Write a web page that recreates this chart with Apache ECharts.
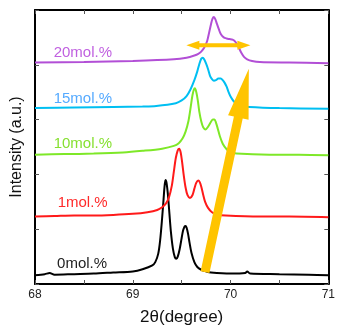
<!DOCTYPE html>
<html><head><meta charset="utf-8">
<script src="https://cdn.jsdelivr.net/npm/echarts@6/dist/echarts.min.js"></script>
<style>html,body{margin:0;padding:0;background:#fff}#c{width:338px;height:331px}</style>
</head><body><div id="c"></div>
<script>
// ---- data ----
const seriesNames = ['0mol.%', '1mol.%', '10mol.%', '15mol.%', '20mol.%'];

const x0 = [68.00,68.10,68.15,68.20,68.40,68.60,68.80,69.00,69.10,69.20,69.23,69.26,69.28,69.30,69.315,69.325,69.335,69.345,69.36,69.375,69.39,69.41,69.43,69.445,69.46,69.48,69.50,69.515,69.53,69.54,69.55,69.565,69.58,69.60,69.63,69.66,69.70,69.75,69.80,70.00,70.15,70.17,70.20,70.50,70.80,71.00];
const y0 = [0.16,0.18,0.20,0.17,0.18,0.19,0.21,0.23,0.27,0.34,0.40,0.55,0.80,1.20,1.55,1.78,1.90,1.85,1.62,1.28,0.95,0.65,0.49,0.46,0.50,0.64,0.84,0.98,1.05,1.06,1.03,0.92,0.76,0.57,0.40,0.31,0.26,0.23,0.21,0.19,0.20,0.23,0.19,0.18,0.17,0.16];

const x1 = [68.00,68.20,68.40,68.60,68.80,69.00,69.15,69.25,69.30,69.34,69.37,69.40,69.42,69.44,69.46,69.475,69.49,69.505,69.52,69.54,69.56,69.585,69.61,69.63,69.65,69.67,69.685,69.70,69.72,69.74,69.77,69.81,69.86,69.95,70.30,70.60,71.00];
const y1 = [1.23,1.24,1.25,1.25,1.26,1.28,1.31,1.35,1.40,1.47,1.58,1.80,2.05,2.30,2.44,2.47,2.40,2.22,2.00,1.76,1.62,1.57,1.62,1.74,1.85,1.89,1.86,1.78,1.63,1.50,1.39,1.31,1.27,1.25,1.23,1.23,1.22];

const x10 = [68.00,68.30,68.60,68.90,69.10,69.30,69.42,69.47,69.51,69.54,69.57,69.59,69.61,69.625,69.635,69.65,69.665,69.68,69.70,69.72,69.745,69.77,69.80,69.82,69.835,69.85,69.87,69.89,69.92,69.96,70.00,70.06,70.40,70.70,71.00];
const y10 = [2.36,2.37,2.38,2.40,2.43,2.47,2.52,2.57,2.66,2.78,2.98,3.20,3.44,3.55,3.57,3.50,3.35,3.15,2.97,2.86,2.82,2.87,2.96,3.00,3.00,2.95,2.83,2.70,2.56,2.46,2.41,2.38,2.36,2.36,2.35];

const x15 = [68.00,68.40,68.80,69.10,69.24,69.44,69.50,69.55,69.59,69.63,69.66,69.68,69.70,69.715,69.73,69.75,69.77,69.79,69.81,69.83,69.85,69.875,69.90,69.92,69.94,69.96,69.98,70.00,70.03,70.07,70.12,70.19,70.50,71.00];
const y15 = [3.21,3.22,3.23,3.24,3.25,3.30,3.35,3.43,3.55,3.72,3.88,4.01,4.11,4.13,4.10,4.02,3.92,3.80,3.74,3.71,3.72,3.75,3.75,3.72,3.67,3.60,3.50,3.42,3.34,3.28,3.25,3.23,3.21,3.20];

const x20 = [68.00,68.50,69.00,69.42,69.55,69.63,69.67,69.70,69.73,69.76,69.78,69.80,69.815,69.83,69.845,69.86,69.88,69.90,69.93,69.96,69.99,70.02,70.05,70.08,70.11,70.14,70.17,70.22,70.30,70.60,71.00];
const y20 = [4.04,4.05,4.07,4.10,4.13,4.17,4.20,4.24,4.31,4.43,4.58,4.74,4.84,4.87,4.83,4.75,4.65,4.56,4.50,4.48,4.47,4.46,4.42,4.33,4.22,4.14,4.10,4.07,4.05,4.04,4.03];

// label anchors (left edge, vertical centre) in data units
const labelX = [68.221, 68.227, 68.186, 68.186, 68.186];
const labelY = [0.361, 1.480, 2.563, 3.384, 4.227];

// annotation arrows: [x1, y1, x2, y2]
const bigArrow = [69.739, 0.217, 70.187, 3.93];
const shiftArrow = [69.548, 4.356, 70.203, 4.356];

const xTicks = [68, 69, 70, 71];

// ---- styles ----
const lineColors = ['#000000', '#ff1a1a', '#7ee828', '#00bff2', '#b24fd6'];
const labelColors = ['#222222', '#ff2a2a', '#86e030', '#55aaff', '#c060e0'];
const xs = [x0, x1, x10, x15, x20];
const ys = [y0, y1, y10, y15, y20];

const FONT = 'Liberation Sans, Arial, sans-serif';

const series = xs.map((xa, i) => ({
  type: 'line',
  name: seriesNames[i],
  data: xa.map((x, j) => [x, ys[i][j]]),
  showSymbol: false,
  smooth: 0.3,
  lineStyle: { width: 2, color: lineColors[i] },
  itemStyle: { color: lineColors[i] },
  z: 2 + i,
  markPoint: {
    silent: true,
    symbol: 'circle',
    symbolSize: 1,
    itemStyle: { color: 'rgba(0,0,0,0)' },
    label: {
      show: true, position: 'right', distance: 0,
      formatter: seriesNames[i], color: labelColors[i],
      fontSize: 15, fontFamily: FONT
    },
    data: [{ coord: [labelX[i], labelY[i]] }]
  }
}));

const arrowDims = [
  { shaft: 9, headW: 21, headL: 50, dbl: false },
  { shaft: 4, headW: 9, headL: 13, dbl: true }
];

series.push({
  type: 'custom',
  coordinateSystem: 'cartesian2d',
  silent: true,
  z: 20,
  data: [bigArrow, shiftArrow],
  renderItem: function (params, api) {
    const p1 = api.coord([api.value(0), api.value(1)]);
    const p2 = api.coord([api.value(2), api.value(3)]);
    const d = arrowDims[params.dataIndex];
    const dx = p2[0] - p1[0], dy = p2[1] - p1[1];
    const L = Math.hypot(dx, dy);
    const ux = dx / L, uy = dy / L, nx = -uy, ny = ux;
    const off = (p, along, side) => [p[0] + ux * along + nx * side, p[1] + uy * along + ny * side];
    let pts;
    if (!d.dbl) {
      const b = off(p2, -d.headL, 0);
      pts = [off(p1, 0, d.shaft / 2), off(b, 0, d.shaft / 2), off(b, 0, d.headW / 2), p2,
             off(b, 0, -d.headW / 2), off(b, 0, -d.shaft / 2), off(p1, 0, -d.shaft / 2)];
    } else {
      const b1 = off(p1, d.headL, 0), b2 = off(p2, -d.headL, 0);
      pts = [p1, off(b1, 0, d.headW / 2), off(b1, 0, d.shaft / 2), off(b2, 0, d.shaft / 2),
             off(b2, 0, d.headW / 2), p2, off(b2, 0, -d.headW / 2), off(b2, 0, -d.shaft / 2),
             off(b1, 0, -d.shaft / 2), off(b1, 0, -d.headW / 2)];
    }
    return { type: 'polygon', shape: { points: pts }, style: { fill: '#ffc400' } };
  }
});

const tickStyle = { show: true, inside: true, length: 4, lineStyle: { color: '#555', width: 1 } };
const axisLine = { show: true, onZero: false, lineStyle: { color: '#000', width: 2 } };

const option = {
  animation: false,
  backgroundColor: '#fff',
  grid: { left: 35, right: 8, top: 10, bottom: 44 },
  xAxis: [
    {
      type: 'value', min: 68, max: 71, interval: 0.5, position: 'bottom',
      axisLine: axisLine, axisTick: tickStyle, splitLine: { show: false },
      axisLabel: {
        margin: 5, fontSize: 12, color: '#222', fontFamily: FONT,
        formatter: v => (xTicks.indexOf(v) >= 0 ? String(v) : '')
      },
      name: '2θ(degree)', nameLocation: 'middle', nameGap: 25,
      nameTextStyle: { fontSize: 17, color: '#111', fontFamily: FONT }
    },
    {
      type: 'value', min: 68, max: 71, interval: 0.5, position: 'top',
      axisLine: axisLine, axisTick: tickStyle, splitLine: { show: false },
      axisLabel: { show: false }
    }
  ],
  yAxis: [
    {
      type: 'value', min: 0, max: 5, interval: 1, position: 'left',
      axisLine: axisLine, axisTick: tickStyle, splitLine: { show: false },
      axisLabel: { show: false },
      name: 'Intensity (a.u.)', nameLocation: 'middle', nameGap: 10,
      nameTextStyle: { fontSize: 16, color: '#111', fontFamily: FONT }
    },
    {
      type: 'value', min: 0, max: 5, interval: 1, position: 'right',
      axisLine: axisLine, axisTick: tickStyle, splitLine: { show: false },
      axisLabel: { show: false }
    }
  ],
  series: series
};

const chart = echarts.init(document.getElementById('c'), null, { renderer: 'canvas' });
chart.setOption(option);
</script></body></html>
